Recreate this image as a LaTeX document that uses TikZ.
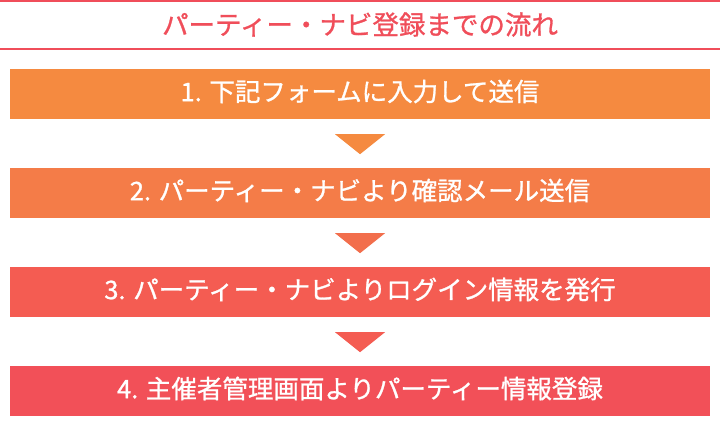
\documentclass[tikz,border=0pt]{standalone}
\usepackage{fontspec}
\setmainfont{Noto Sans CJK JP}
\newfontfamily\medfont[FakeBold=1]{Noto Sans CJK JP}
\usetikzlibrary{calc}
\definecolor{titlered}{HTML}{F04E5A}
\definecolor{cone}{HTML}{F58A40}
\definecolor{ctwo}{HTML}{F47C48}
\definecolor{cthree}{HTML}{F45C52}
\definecolor{cfour}{HTML}{F25058}
\definecolor{tone}{HTML}{F58A40}
\definecolor{ttwo}{HTML}{F26E4C}
\definecolor{tthree}{HTML}{F45C52}
\tikzset{
  stepbox/.style={rectangle, minimum width=700pt, minimum height=50pt, inner sep=0pt,
    text=white, font=\medfont\fontsize{25.5pt}{30pt}\selectfont},
  steptext/.style={inner sep=0pt, text=white, font=\medfont\fontsize{25.5pt}{30pt}\selectfont},
  titletext/.style={text=titlered, font=\medfont\fontsize{26.5pt}{30pt}\selectfont, inner sep=0pt},
  rule/.style={draw=titlered, line width=2pt},
}
\begin{document}
\begin{tikzpicture}[x=1pt,y=-1pt]
\useasboundingbox (0,0) rectangle (720,430);
\fill[white] (0,0) rectangle (720,430);
\coordinate (tl) at (0,1);
\coordinate (tr) at (720,1);
\coordinate (bl) at (0,49);
\coordinate (br) at (720,49);
\draw[rule] (tl) -- (tr);
\draw[rule] (bl) -- (br);
\node[titletext] (title) at (360,24.5) {パーティー・ナビ登録までの流れ};
\node[stepbox, fill=cone] (b1) at (360,94) {};
\node[stepbox, fill=ctwo] (b2) at (360,193) {};
\node[stepbox, fill=cthree] (b3) at (360,292) {};
\node[stepbox, fill=cfour] (b4) at (360,391) {};
\node[steptext] (t1) at ($(b1.center)+(0,-2.5)$) {1. 下記フォームに入力して送信};
\node[steptext] (t2) at ($(b2.center)+(0,-2.5)$) {2. パーティー・ナビより確認メール送信};
\node[steptext] (t3) at ($(b3.center)+(0,-2.5)$) {3. パーティー・ナビよりログイン情報を発行};
\node[steptext] (t4) at ($(b4.center)+(0,-2.5)$) {4. 主催者管理画面よりパーティー情報登録};
\fill[tone] ($(b1.south)+(-25,15)$) -- ($(b1.south)+(25,15)$) -- ($(b1.south)+(0,35)$) -- cycle;
\fill[ttwo] ($(b2.south)+(-25,15)$) -- ($(b2.south)+(25,15)$) -- ($(b2.south)+(0,35)$) -- cycle;
\fill[tthree] ($(b3.south)+(-25,15)$) -- ($(b3.south)+(25,15)$) -- ($(b3.south)+(0,35)$) -- cycle;
\end{tikzpicture}
\end{document}
